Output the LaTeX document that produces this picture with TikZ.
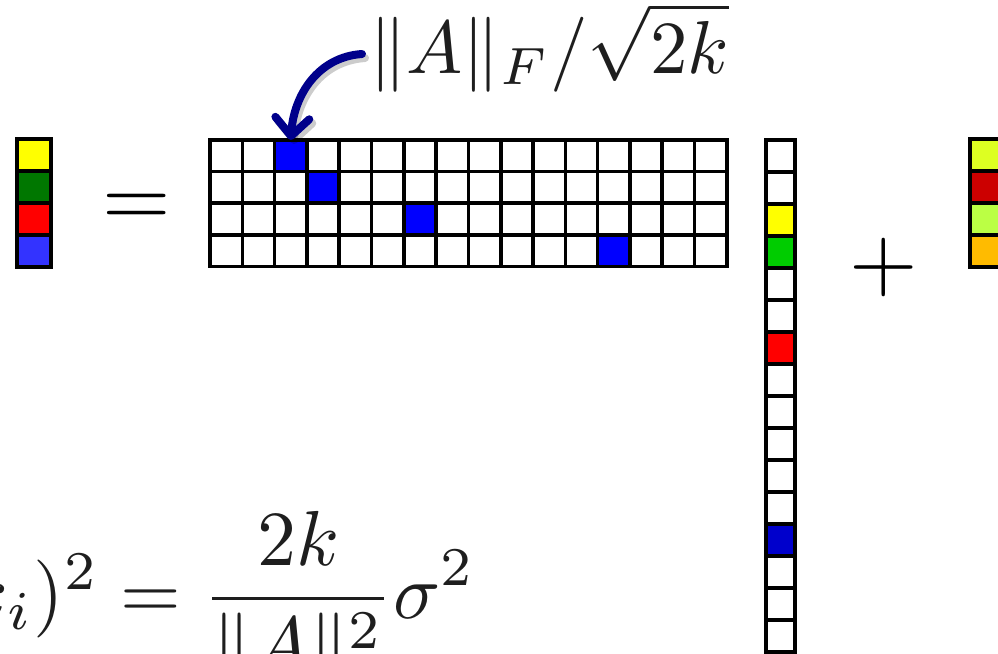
\documentclass[tikz,border=0pt]{standalone}
\usepackage{amsmath}
\usepackage{graphicx}
\usetikzlibrary{arrows.meta}
\definecolor{mblue}{HTML}{0000FF}
\definecolor{vyellow}{HTML}{FFFF00}
\definecolor{vgreen}{HTML}{00CC00}
\definecolor{vred}{HTML}{FF0000}
\definecolor{vblue}{HTML}{0000CC}
\definecolor{lyellow}{HTML}{FFFF00}
\definecolor{lgreen}{HTML}{007700}
\definecolor{lred}{HTML}{FF0000}
\definecolor{lblue}{HTML}{3333FF}
\definecolor{rlime}{HTML}{DDFF22}
\definecolor{rred}{HTML}{CC0000}
\definecolor{rgreen}{HTML}{BBFF44}
\definecolor{rorange}{HTML}{FFBB00}
\definecolor{navyarrow}{HTML}{00008B}
\definecolor{inkc}{HTML}{1E1E1E}
\begin{document}
\begin{tikzpicture}[x=1pt,y=-1pt,
  cell/.style={draw=black,line width=3.6pt,minimum width=32.3pt,minimum height=31.6pt,inner sep=0pt,outer sep=0pt,fill=white},
  vcell/.style={draw=black,line width=3.6pt,minimum width=29pt,minimum height=32pt,inner sep=0pt,outer sep=0pt,fill=white},
  scell/.style={draw=black,line width=3.6pt,minimum width=34pt,minimum height=32pt,inner sep=0pt,outer sep=0pt},
  bigmath/.style={inner sep=0pt,outer sep=0pt,text=inkc},
  opmath/.style={inner sep=0pt,outer sep=0pt,text=black},
  pointer/.style={line width=8pt,line cap=round,-{Straight Barb[length=18pt,width=34pt,round]}}
]
\useasboundingbox (0,0) rectangle (998,653);
\clip (0,0) rectangle (998,653);

% left vector
\foreach \i/\col in {0/lyellow,1/lgreen,2/lred,3/lblue}{
  \node[scell,fill=\col] (l-\i) at (34,{139+32*(\i+0.5)}) {};
}

% equals
\node[opmath,anchor=base] (eqa) at (137,226) {\scalebox{8.8}{$=$}};

% matrix
\foreach \r in {0,...,3}{
  \foreach \c in {0,...,15}{
    \node[cell] (m-\r-\c) at ({210+32.3*(\c+0.5)},{140+31.6*(\r+0.5)}) {};
  }
}
\foreach \r/\c in {0/2,1/3,2/6,3/12}{
  \node[cell,fill=mblue] (b-\r) at (m-\r-\c) {};
}

% column vector
\foreach \i in {0,...,15}{
  \node[vcell] (v-\i) at (780.5,{140+32*(\i+0.5)}) {};
}
\foreach \i/\col in {2/vyellow,3/vgreen,6/vred,12/vblue}{
  \node[vcell,fill=\col] (vc-\i) at (v-\i) {};
}

% plus
\node[opmath,anchor=base] (plus) at (884,289) {\scalebox{8.8}{$+$}};

% right vector
\foreach \i/\col in {0/rlime,1/rred,2/rgreen,3/rorange}{
  \node[scell,fill=\col] (r-\i) at (987,{139+32*(\i+0.5)}) {};
}

% label and arrow
\node[bigmath,anchor=base west] (lbl) at (369,73) {\scalebox{7.5}{$\|A\|_F/\sqrt{2k}$}};
\coordinate (astart) at (362,54);
\draw[pointer,draw=black,opacity=0.2] ([shift={(3,4)}]astart) .. controls (321,61) and (297,98) .. ([shift={(3,4)}]b-0.north);
\draw[pointer,draw=navyarrow] (astart) .. controls (318,57) and (294,95) .. (b-0.north);

% bottom formula
\node[bigmath,anchor=base east] (lhs) at (99,618) {\scalebox{7.8}{$x_i)^2$}};
\node[bigmath,anchor=base west] (rhs) at (lhs.base east) {\scalebox{7.8}{$\displaystyle{}=\frac{2k}{\|A\|^2}\sigma^2$}};
\end{tikzpicture}
\end{document}
